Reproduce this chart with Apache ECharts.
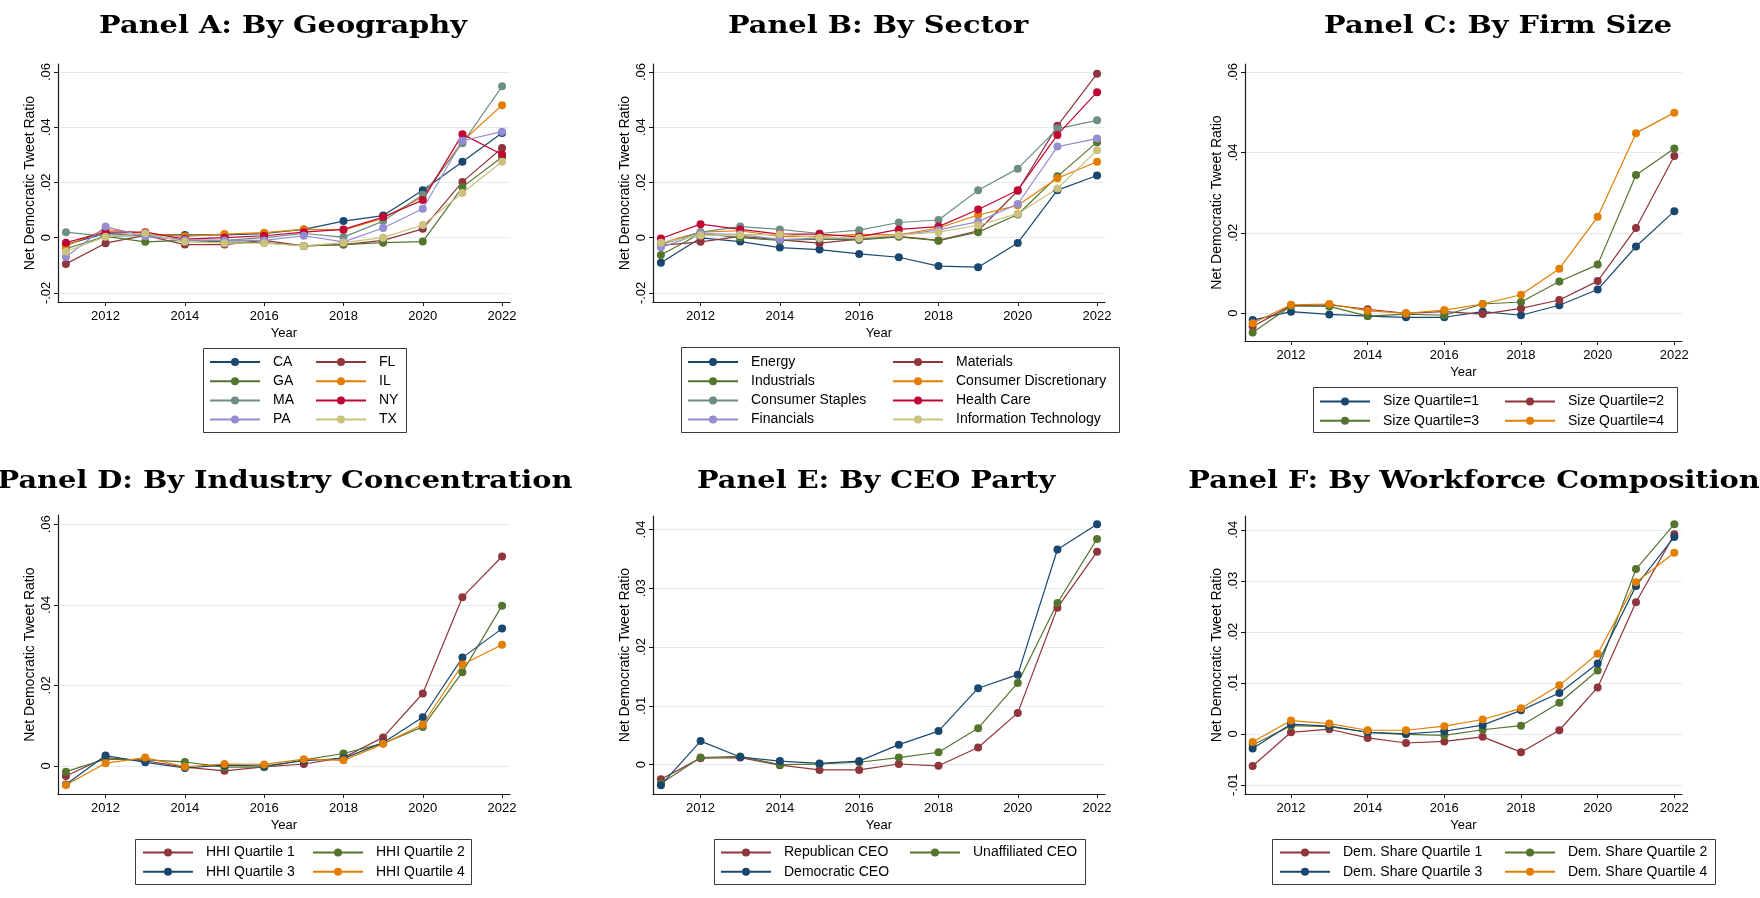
<!DOCTYPE html>
<html>
<head>
<meta charset="utf-8">
<script src="https://cdn.jsdelivr.net/npm/echarts@6/dist/echarts.min.js"></script>
<style>
html, body { margin: 0; padding: 0; background: #fff; }
#chart { width: 1760px; height: 898px; }
</style>
</head>
<body>
<div id="chart"></div>
<script>
// ---- data ----
const years = [2011, 2012, 2013, 2014, 2015, 2016, 2017, 2018, 2019, 2020, 2021, 2022];
const yearTicks = [2012, 2014, 2016, 2018, 2020, 2022];

// Panel A: by geography
const geoNames = ['CA', 'FL', 'GA', 'IL', 'MA', 'NY', 'PA', 'TX'];
const geoCA = [-0.0025, 0.0015, 0.001, 0.001, 0.001, 0.0015, 0.003, 0.006, 0.008, 0.0172, 0.0275, 0.0379];
const geoFL = [-0.0095, -0.002, 0.0008, -0.0025, -0.0025, -0.001, -0.003, -0.0025, -0.001, 0.0032, 0.0202, 0.0325];
const geoGA = [-0.004, 0.0005, -0.0015, -0.001, -0.0015, -0.0018, -0.003, -0.0025, -0.0018, -0.0014, 0.0183, 0.0292];
const geoIL = [-0.003, 0.003, 0.0015, 0.0005, 0.0013, 0.0018, 0.003, 0.0028, 0.007, 0.0148, 0.0349, 0.048];
const geoMA = [0.002, 0.0005, 0.0008, -0.001, -0.001, 0, 0.0015, 0.0002, 0.006, 0.0155, 0.0342, 0.0548];
const geoNY = [-0.0018, 0.002, 0.002, -0.0005, 0, 0.0007, 0.002, 0.003, 0.0075, 0.0136, 0.0375, 0.0301];
const geoPA = [-0.007, 0.004, 0.0005, -0.0008, -0.001, -0.001, 0.0007, -0.0015, 0.0035, 0.0105, 0.0351, 0.0384];
const geoTX = [-0.005, 0.0003, 0.0016, -0.0015, -0.002, -0.002, -0.003, -0.0018, 0, 0.0046, 0.0162, 0.0275];

// Panel B: by sector
const sectorNames = ['Energy', 'Materials', 'Industrials', 'Consumer Discretionary', 'Consumer Staples', 'Health Care', 'Financials', 'Information Technology'];
const secEnergy = [-0.0091, -0.0001, -0.0014, -0.0036, -0.0043, -0.0059, -0.0071, -0.0103, -0.0107, -0.0019, 0.0172, 0.0225];
const secMaterials = [-0.0028, -0.0015, 0.0005, -0.0008, -0.002, -0.0005, 0.0005, -0.001, 0.0025, 0.017, 0.0405, 0.0594];
const secIndustrials = [-0.0063, 0.0015, 0, -0.001, -0.0005, -0.0008, 0.0003, -0.0011, 0.002, 0.0084, 0.0222, 0.0346];
const secConsDisc = [-0.002, 0.002, 0.0025, 0.0005, 0.0005, 0.0012, 0.001, 0.0035, 0.0082, 0.0117, 0.0215, 0.0275];
const secConsStaples = [-0.0025, 0.002, 0.004, 0.003, 0.0015, 0.0027, 0.0055, 0.0064, 0.0172, 0.025, 0.0395, 0.0425];
const secHealth = [-0.0003, 0.0049, 0.003, 0.0013, 0.0013, 0.0003, 0.003, 0.004, 0.0102, 0.0172, 0.0372, 0.0527];
const secFinancials = [-0.0035, 0.0015, 0.0012, -0.0007, -0.0002, -0.0003, 0.0008, 0.0028, 0.0058, 0.0122, 0.033, 0.0359];
const secIT = [-0.0018, 0.0008, 0.001, 0.0012, 0, -0.0001, 0.001, 0.002, 0.0045, 0.0087, 0.0178, 0.0317];

// Panel C: by firm size
const sizeNames = ['Size Quartile=1', 'Size Quartile=2', 'Size Quartile=3', 'Size Quartile=4'];
const sizeQ1 = [-0.0017, 0.0004, -0.0003, -0.0007, -0.001, -0.001, 0.0004, -0.0005, 0.002, 0.0059, 0.0166, 0.0254];
const sizeQ2 = [-0.0033, 0.0019, 0.0021, 0.001, 0, 0.0004, -0.0002, 0.0012, 0.0033, 0.008, 0.0212, 0.0391];
const sizeQ3 = [-0.0048, 0.0018, 0.0017, -0.0007, -0.0002, -0.0005, 0.0023, 0.0028, 0.0079, 0.0121, 0.0344, 0.041];
const sizeQ4 = [-0.0025, 0.0021, 0.0023, 0.0006, 0, 0.0008, 0.0023, 0.0046, 0.0111, 0.024, 0.0448, 0.0499];

// Panel D: by industry concentration
const hhiNames = ['HHI Quartile 1', 'HHI Quartile 2', 'HHI Quartile 3', 'HHI Quartile 4'];
const hhiQ1 = [-0.0025, 0.0021, 0.0013, -0.0003, -0.0012, -0.0002, 0.0005, 0.0021, 0.0071, 0.018, 0.0419, 0.052];
const hhiQ2 = [-0.0014, 0.0017, 0.0015, 0.001, -0.0003, -0.0003, 0.0015, 0.0031, 0.0056, 0.0097, 0.0233, 0.0398];
const hhiQ3 = [-0.0046, 0.0026, 0.0009, -0.0005, 0.0002, 0, 0.0013, 0.0019, 0.0058, 0.0121, 0.0269, 0.0341];
const hhiQ4 = [-0.0047, 0.0007, 0.0021, -0.0002, 0.0005, 0.0004, 0.0017, 0.0014, 0.0055, 0.0103, 0.0252, 0.0301];

// Panel E: by CEO party
const ceoNames = ['Republican CEO', 'Unaffiliated CEO', 'Democratic CEO'];
const ceoRep = [-0.0025, 0.0011, 0.0012, -0.0001, -0.0009, -0.0009, 0.0001, -0.0002, 0.0029, 0.0088, 0.0267, 0.0362];
const ceoUnaff = [-0.0032, 0.0012, 0.0014, 0, 0.0001, 0.0004, 0.0012, 0.0021, 0.0062, 0.0139, 0.0275, 0.0384];
const ceoDem = [-0.0035, 0.004, 0.0013, 0.0006, 0.0002, 0.0006, 0.0034, 0.0057, 0.013, 0.0153, 0.0366, 0.0409];

// Panel F: by workforce composition
const wfNames = ['Dem. Share Quartile 1', 'Dem. Share Quartile 2', 'Dem. Share Quartile 3', 'Dem. Share Quartile 4'];
const wfQ1 = [-0.0063, 0.0003, 0.0009, -0.0008, -0.0018, -0.0015, -0.0006, -0.0036, 0.0007, 0.0091, 0.0258, 0.0391];
const wfQ2 = [-0.0022, 0.0016, 0.0014, 0.0003, -0.0001, -0.0003, 0.0008, 0.0016, 0.0061, 0.0124, 0.0323, 0.0411];
const wfQ3 = [-0.0029, 0.0019, 0.0015, 0.0003, 0, 0.0005, 0.0017, 0.0046, 0.008, 0.0138, 0.029, 0.0386];
const wfQ4 = [-0.0016, 0.0026, 0.002, 0.0007, 0.0007, 0.0015, 0.0028, 0.005, 0.0095, 0.0157, 0.0297, 0.0355];

// y-axis tick values per panel
const ticksAB = [-0.02, 0, 0.02, 0.04, 0.06];
const ticksCD = [0, 0.02, 0.04, 0.06];
const ticksE = [0, 0.01, 0.02, 0.03, 0.04];
const ticksF = [-0.01, 0, 0.01, 0.02, 0.03, 0.04];

// ---- styling ----
const C = {
  navy: '#1a476f', maroon: '#90353b', green: '#55752f', orange: '#e37e00',
  teal: '#6e8e84', cranberry: '#c10534', lavender: '#938dd2', khaki: '#cac27e'
};
const SANS = '"Liberation Sans", Arial, sans-serif';
const SERIF = '"DejaVu Serif", serif';
const AXIS_COLOR = '#1a1a1a';
const GRID_COLOR = '#e4ecee';

// panel layout: grid rectangle, y range, ticks
const panels = [
  { title: 'Panel A: By Geography', tx: 283, ty: 27, left: 58, top: 64, width: 452, height: 238, ymin: -0.0233, ymax: 0.0629, ticks: ticksAB },
  { title: 'Panel B: By Sector', tx: 878, ty: 27, left: 653, top: 64, width: 452, height: 238, ymin: -0.0233, ymax: 0.0629, ticks: ticksAB },
  { title: 'Panel C: By Firm Size', tx: 1498, ty: 27, left: 1245, top: 64, width: 437, height: 277, ymin: -0.0069, ymax: 0.062, ticks: ticksCD },
  { title: 'Panel D: By Industry Concentration', tx: 285, ty: 482, left: 58, top: 515, width: 452, height: 279, ymin: -0.00695, ymax: 0.0623, ticks: ticksCD },
  { title: 'Panel E: By CEO Party', tx: 876, ty: 482, left: 653, top: 516, width: 452, height: 278, ymin: -0.005, ymax: 0.0423, ticks: ticksE },
  { title: 'Panel F: By Workforce Composition', tx: 1474, ty: 482, left: 1245, top: 516, width: 437, height: 278, ymin: -0.0118, ymax: 0.0427, ticks: ticksF }
];

// series per panel: [name, values, color]
const panelSeries = [
  [[geoNames[0], geoCA, C.navy], [geoNames[1], geoFL, C.maroon], [geoNames[2], geoGA, C.green], [geoNames[3], geoIL, C.orange],
   [geoNames[4], geoMA, C.teal], [geoNames[5], geoNY, C.cranberry], [geoNames[6], geoPA, C.lavender], [geoNames[7], geoTX, C.khaki]],
  [[sectorNames[0], secEnergy, C.navy], [sectorNames[1], secMaterials, C.maroon], [sectorNames[2], secIndustrials, C.green], [sectorNames[3], secConsDisc, C.orange],
   [sectorNames[4], secConsStaples, C.teal], [sectorNames[5], secHealth, C.cranberry], [sectorNames[6], secFinancials, C.lavender], [sectorNames[7], secIT, C.khaki]],
  [[sizeNames[0], sizeQ1, C.navy], [sizeNames[1], sizeQ2, C.maroon], [sizeNames[2], sizeQ3, C.green], [sizeNames[3], sizeQ4, C.orange]],
  [[hhiNames[0], hhiQ1, C.maroon], [hhiNames[1], hhiQ2, C.green], [hhiNames[2], hhiQ3, C.navy], [hhiNames[3], hhiQ4, C.orange]],
  [[ceoNames[0], ceoRep, C.maroon], [ceoNames[1], ceoUnaff, C.green], [ceoNames[2], ceoDem, C.navy]],
  [[wfNames[0], wfQ1, C.maroon], [wfNames[1], wfQ2, C.green], [wfNames[2], wfQ3, C.navy], [wfNames[3], wfQ4, C.orange]]
];

// legend boxes: box rect, column starts, first row center
const legends = [
  { box: [203, 348, 203, 84], cols: [209, 315], row0: 362, names: geoNames },
  { box: [681, 347, 438, 85], cols: [687, 892], row0: 362, names: sectorNames },
  { box: [1313, 387, 364, 45], cols: [1319, 1504], row0: 401.5, names: sizeNames },
  { box: [135, 839, 336, 45], cols: [142, 312], row0: 852.5, names: hhiNames },
  { box: [714, 839, 371, 45], cols: [720, 909], row0: 852.5, names: ceoNames },
  { box: [1272, 839, 443, 45], cols: [1279, 1504], row0: 852.5, names: wfNames }
];
const ROW_STEP = 19.2;

function fmtY(v) {
  if (Math.abs(v) < 1e-9) return '0';
  return (Math.round(v * 100) / 100).toFixed(2).replace(/^(-?)0\./, '$1.');
}

const grid = [], xAxis = [], yAxis = [], series = [], legend = [], graphic = [];

panels.forEach((p, i) => {
  grid.push({ left: p.left, top: p.top, width: p.width, height: p.height, containLabel: false });
  xAxis.push({
    type: 'value', gridIndex: i, min: 2010.8, max: 2022.2,
    name: 'Year', nameLocation: 'middle', nameGap: 25,
    nameTextStyle: { fontFamily: SANS, fontSize: 13, color: '#000' },
    axisLine: { show: true, onZero: false, lineStyle: { color: AXIS_COLOR, width: 1.2 } },
    axisTick: { show: true, length: 4, inside: false, customValues: yearTicks, lineStyle: { color: AXIS_COLOR } },
    axisLabel: { customValues: yearTicks, fontFamily: SANS, fontSize: 13, color: '#000', margin: 8, formatter: v => String(v) },
    splitLine: { show: false }
  });
  yAxis.push({
    type: 'value', gridIndex: i, min: p.ymin, max: p.ymax,
    name: 'Net Democratic Tweet Ratio', nameLocation: 'middle', nameGap: 21,
    nameTextStyle: { fontFamily: SANS, fontSize: 14, color: '#000' },
    axisLine: { show: true, onZero: false, lineStyle: { color: AXIS_COLOR, width: 1.2 } },
    axisTick: { show: true, length: 4, inside: false, customValues: p.ticks, lineStyle: { color: AXIS_COLOR } },
    axisLabel: { customValues: p.ticks, rotate: 90, fontFamily: SANS, fontSize: 13, color: '#000', margin: 5, formatter: fmtY },
    splitLine: { show: true, lineStyle: { color: GRID_COLOR, width: 1.2 } }
  });
  panelSeries[i].forEach(([name, vals, color]) => {
    series.push({
      type: 'line', name, xAxisIndex: i, yAxisIndex: i,
      data: years.map((y, k) => [y, vals[k]]),
      symbol: 'circle', symbolSize: 8, showSymbol: true,
      lineStyle: { color, width: 1.2 },
      itemStyle: { color },
      emphasis: { disabled: true },
      animation: false
    });
  });
  graphic.push({
    type: 'text', x: p.tx, y: p.ty, scaleX: 1.2,
    style: { text: p.title, font: 'bold 24px ' + SERIF, fill: '#000', align: 'center', verticalAlign: 'middle' }
  });
});

legends.forEach(L => {
  const [bx, by, bw, bh] = L.box;
  graphic.push({
    type: 'rect', shape: { x: bx + 0.5, y: by + 0.5, width: bw, height: bh },
    style: { fill: '#fff', stroke: '#3a3a3a', lineWidth: 1 }, z: -1
  });
  const col1 = L.names.filter((_, k) => k % 2 === 0);
  const col2 = L.names.filter((_, k) => k % 2 === 1);
  [col1, col2].forEach((names, c) => {
    legend.push({
      orient: 'vertical', left: L.cols[c], top: L.row0 - 7, padding: 0,
      itemWidth: 50, itemHeight: 10, itemGap: ROW_STEP - 14,
      data: names, selectedMode: false,
      textStyle: { fontFamily: SANS, fontSize: 14, color: '#000', padding: [0, 0, 0, 8], lineHeight: 14 }
    });
  });
});

const chart = echarts.init(document.getElementById('chart'), null, { renderer: 'canvas' });
chart.setOption({
  backgroundColor: '#fff',
  animation: false,
  grid, xAxis, yAxis, series, legend, graphic
});
</script>
</body>
</html>
